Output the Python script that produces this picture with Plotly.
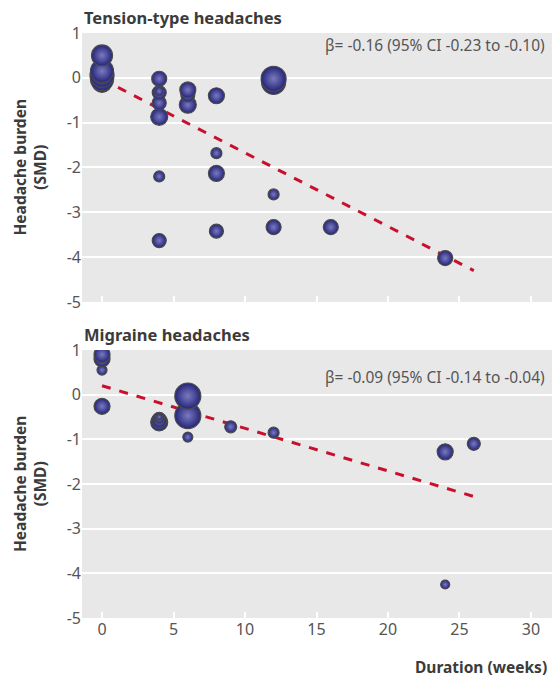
import plotly.graph_objects as go

# Tension-type headaches
tt_x = [0, 0, 0, 0, 0,
        4, 4, 4, 4, 4, 4, 4,
        6, 6, 6,
        8, 8, 8, 8,
        12, 12, 12, 12,
        16, 24]
tt_y = [-0.1, -0.03, 0.06, 0.15, 0.5,
        -3.63, -2.2, -0.87, -0.56, -0.33, -0.3, -0.02,
        -0.6, -0.38, -0.27,
        -3.42, -2.13, -1.68, -0.4,
        -3.33, -2.6, -0.1, -0.02,
        -3.33, -4.02]
tt_w = [20, 23, 24, 23, 21,
        14, 11, 17, 14, 14, 9, 15,
        17, 14, 16,
        14, 16, 11, 16,
        15, 11, 24, 25,
        15, 15]

# Migraine headaches
mg_x = [0, 0, 0, 0,
        4, 4, 4, 4,
        6, 6, 6,
        9, 12,
        24, 24, 26]
mg_y = [-0.26, 0.55, 0.8, 0.9,
        -0.62, -0.57, -0.52, -0.5,
        -0.95, -0.47, -0.03,
        -0.72, -0.85,
        -4.25, -1.28, -1.1]
mg_w = [16, 10, 16, 16,
        17, 15, 11, 6,
        10, 26, 26,
        12, 11,
        9, 16, 13]

# Meta-regression lines
reg_x = [0, 26]
tt_fit = [-0.03, -4.3]
mg_fit = [0.2, -2.28]

tt_label = "β= -0.16 (95% CI -0.23 to -0.10)"
mg_label = "β= -0.09 (95% CI -0.14 to -0.04)"

x_ticks = [0, 5, 10, 15, 20, 25, 30]
y_ticks = [1, 0, -1, -2, -3, -4, -5]
y_ticktext = ["1", "0", "-1", "-2", "-3", "-4", "-5"]

FONT = "Noto Sans"
TICKC = "#555555"
TITLEC = "#3b3b3b"

fig = go.Figure()

def add_panel(xs, ys, ws, fy, xa, ya):
    fig.add_trace(go.Scatter(x=reg_x, y=fy, mode="lines", xaxis=xa, yaxis=ya,
                             line=dict(color="#c8102e", width=3, dash="dash"),
                             hoverinfo="skip", showlegend=False))
    fig.add_trace(go.Scatter(x=xs, y=ys, mode="markers", xaxis=xa, yaxis=ya,
                             marker=dict(size=ws, color="#25257a",
                                         gradient=dict(type="radial", color="#7a7ac0"),
                                         line=dict(color="#4a4a4a", width=1.2),
                                         opacity=1),
                             showlegend=False))

add_panel(tt_x, tt_y, tt_w, tt_fit, "x", "y")
add_panel(mg_x, mg_y, mg_w, mg_fit, "x2", "y2")

xcommon = dict(range=[-1.4, 31.47], tickvals=x_ticks, showgrid=False, zeroline=False,
               ticks="inside", ticklen=6, tickwidth=2, tickcolor="white",
               showline=False, tickfont=dict(family=FONT, size=16, color=TICKC))
ycommon = dict(range=[-5, 1], tickvals=y_ticks, ticktext=y_ticktext, showgrid=True,
               gridcolor="white", gridwidth=2, zeroline=False, showline=False, ticks="",
               tickfont=dict(family=FONT, size=16, color=TICKC))

fig.update_layout(
    width=552, height=680,
    margin=dict(l=82, r=0, t=33, b=62),
    paper_bgcolor="white", plot_bgcolor="#e8e8e8",
    xaxis=dict(domain=[0, 1], anchor="y", showticklabels=False, **xcommon),
    yaxis=dict(domain=[0.5402, 1.0], anchor="x", **ycommon),
    xaxis2=dict(domain=[0, 1], anchor="y2", showticklabels=True, **xcommon),
    yaxis2=dict(domain=[0, 0.4581], anchor="x2", **ycommon),
    font=dict(family=FONT),
)

annots = [
    dict(text="<b>Tension-type headaches</b>", x=0, y=1.0, xref="x domain", yref="y domain",
         xanchor="left", yanchor="bottom", yshift=2, showarrow=False,
         font=dict(family=FONT, size=16.5, color=TITLEC)),
    dict(text="<b>Migraine headaches</b>", x=0, y=1.0, xref="x2 domain", yref="y2 domain",
         xanchor="left", yanchor="bottom", yshift=2, showarrow=False,
         font=dict(family=FONT, size=16.5, color=TITLEC)),
    dict(text=tt_label, x=0.99, y=0.955, xref="x domain", yref="y domain",
         xanchor="right", yanchor="middle", showarrow=False,
         font=dict(family=FONT, size=15.5, color=TICKC)),
    dict(text=mg_label, x=0.99, y=0.9, xref="x2 domain", yref="y2 domain",
         xanchor="right", yanchor="middle", showarrow=False,
         font=dict(family=FONT, size=15.5, color=TICKC)),
    dict(text="<b>Duration (weeks)</b>", x=1.0, y=0, xref="paper", yref="paper",
         xanchor="right", yanchor="top", yshift=-36, xshift=-3, showarrow=False,
         font=dict(family=FONT, size=15.5, color=TITLEC)),
]
for xr, yr in [("x domain", "y domain"), ("x2 domain", "y2 domain")]:
    annots.append(dict(text="<b>Headache burden<br>(SMD)</b>", x=-0.1, y=0.5,
                       xref=xr, yref=yr,
                       xanchor="center", yanchor="middle", textangle=-90, showarrow=False,
                       xshift=-5,
                       font=dict(family=FONT, size=15.5, color=TITLEC)))
fig.update_layout(annotations=annots)

fig.write_html("out.html", config={"displayModeBar": False})

with open("out.html", "r", encoding="utf-8") as f:
    html = f.read()
html = html.replace("<head>", "<head><style>html,body{margin:0;padding:0;overflow:hidden;}</style>", 1)
with open("out.html", "w", encoding="utf-8") as f:
    f.write(html)
